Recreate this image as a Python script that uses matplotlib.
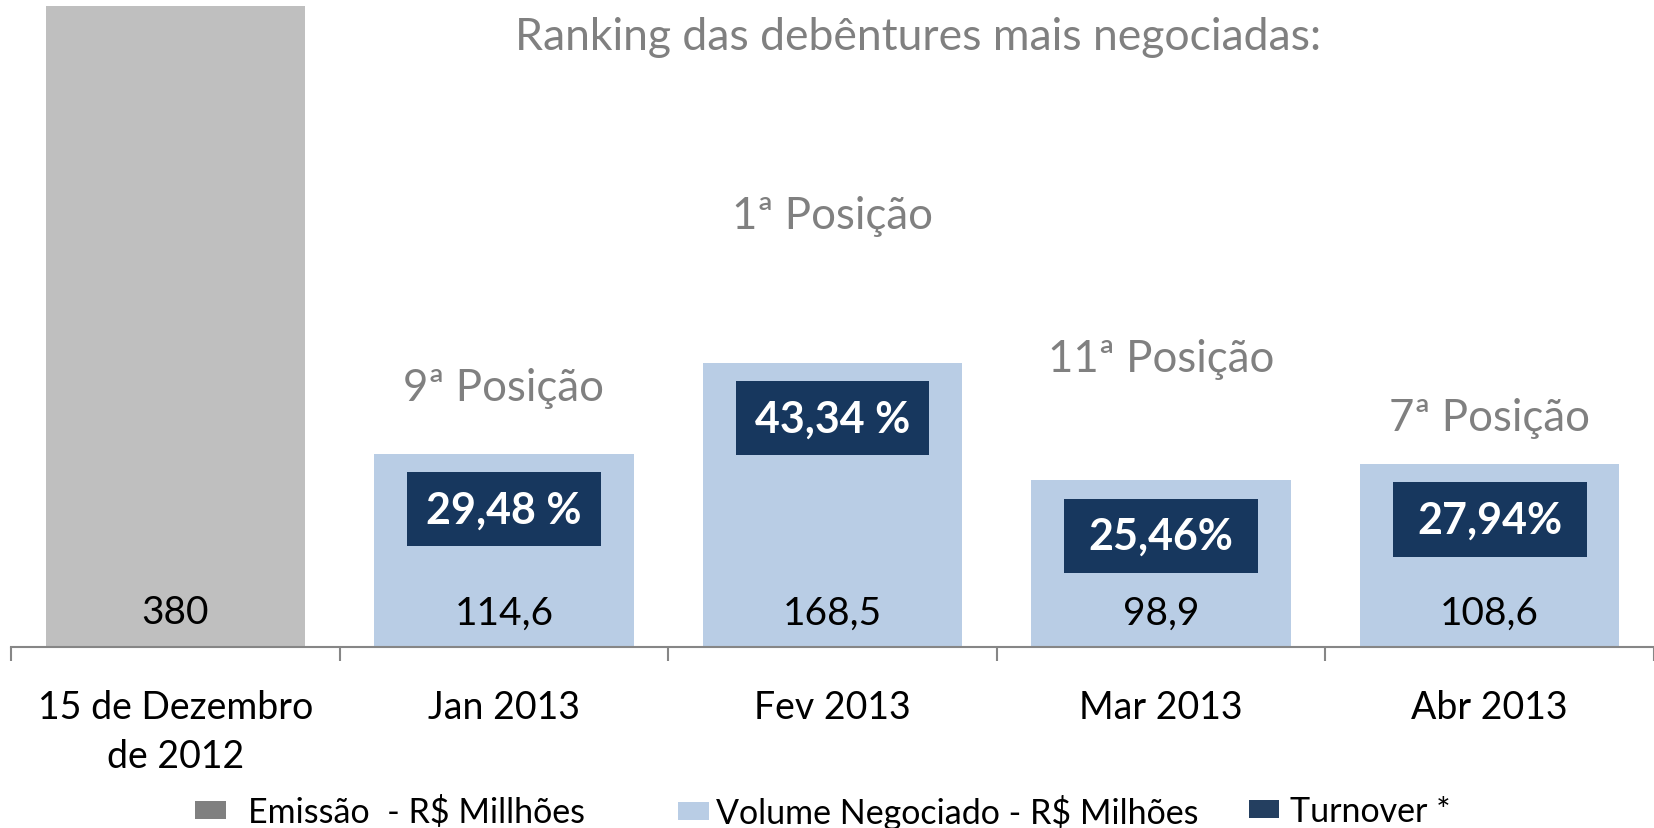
import numpy as np
import matplotlib
matplotlib.use("Agg")
import matplotlib.pyplot as plt
from matplotlib.patches import Patch

plt.rcParams['font.family'] = ['Lato', 'DejaVu Sans']

# dados
categorias = ['15 de Dezembro\nde 2012', 'Jan 2013', 'Fev 2013', 'Mar 2013', 'Abr 2013']
emissao = [380]
volume = [114.6, 168.5, 98.9, 108.6]
rotulos_valor = ['380', '114,6', '168,5', '98,9', '108,6']
turnover = ['29,48 %', '43,34 %', '25,46%', '27,94%']
posicoes = ['9ª Posição', '1ª Posição', '11ª Posição', '7ª Posição']
posicao_y = [154, 256, 171, 136]
legenda = ['Emissão  - R$ Millhões', 'Volume Negociado - R$ Milhões', 'Turnover *']

COR_EMISSAO = '#bfbfbf'
COR_EMISSAO_LEG = '#808080'
COR_VOLUME = '#b9cde5'
COR_TURNOVER = '#17375e'
COR_CINZA = '#808080'

fig = plt.figure(figsize=(16.54, 8.29), dpi=100)
ax = fig.add_axes([11 / 1654, 0.2183, 1 - 11 / 1654, 1 - 0.2183])

x = np.arange(len(categorias))
largura = 0.79

ax.bar(x[:1], emissao, width=largura, color=COR_EMISSAO, zorder=2)
ax.bar(x[1:], volume, width=largura, color=COR_VOLUME, zorder=2)

# caixas de turnover (abaixo do topo de cada barra)
altura_caixa = 44
folga = 11
vol = np.array(volume)
ax.bar(x[1:], [altura_caixa] * len(vol), bottom=vol - folga - altura_caixa,
       width=0.59, color=COR_TURNOVER, zorder=3)
for xi, v, t in zip(x[1:], vol, turnover):
    ax.text(xi, v - folga - altura_caixa / 2, t, ha='center', va='center',
            color='white', fontsize=31, fontweight='bold', zorder=4)

# rótulos de valor
for xi, r in zip(x, rotulos_valor):
    ax.annotate(r, (xi, 0), xytext=(0, 25), textcoords='offset points',
                ha='center', va='center', fontsize=28, color='black', zorder=4)

# posição no ranking
for xi, p, py in zip(x[1:], posicoes, posicao_y):
    ax.text(xi, py, p, ha='center', va='center', fontsize=31.5, color=COR_CINZA)

fig.text(0.555, 0.955, 'Ranking das debêntures mais negociadas:', ha='center',
         va='center', fontsize=32, color=COR_CINZA)

ax.set_xlim(-0.5, 4.5)
ax.set_ylim(0, 384)
for s in ['top', 'right', 'left']:
    ax.spines[s].set_visible(False)
ax.spines['bottom'].set_color('#868686')
ax.spines['bottom'].set_linewidth(1.5)
ax.set_yticks([])

ax.set_xticks(x)
ax.set_xticklabels(categorias, fontsize=27, linespacing=1.47)
ax.tick_params(axis='x', which='major', length=0, pad=30)
ax.set_xticks(np.arange(-0.5, 5.0, 1.0), minor=True)
ax.tick_params(axis='x', which='minor', length=10, width=1.5, color='#868686')

# legenda: uma entrada por vez
cores_leg = [COR_EMISSAO_LEG, COR_VOLUME, '#243f60']
x_leg = [0.118, 0.410, 0.755]
pad_leg = [0.65, 0.2, 0.3]
for rot, cor, xl, pd in zip(legenda, cores_leg, x_leg, pad_leg):
    fig.legend(handles=[Patch(facecolor=cor, label=rot)], loc='center left',
               bbox_to_anchor=(xl, 0.02), frameon=False, fontsize=24.5,
               handlelength=0.9, handleheight=0.45, handletextpad=pd,
               borderpad=0, borderaxespad=0)

fig.savefig('out.png', dpi=100)
